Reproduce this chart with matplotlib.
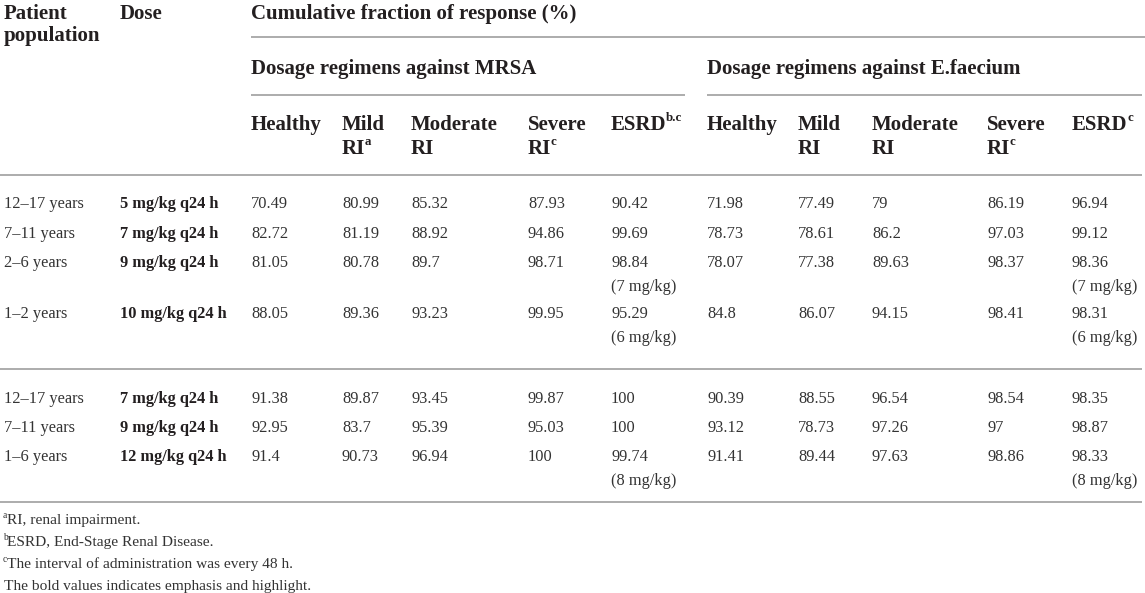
import matplotlib.pyplot as plt

# table content
header_top = "Cumulative fraction of response (%)"
group_titles = ["Dosage regimens against MRSA", "Dosage regimens against E.faecium"]
col_heads_mrsa = [("Healthy", "", ""), ("Mild", "RI", "a"), ("Moderate", "RI", ""),
                  ("Severe", "RI", "c"), ("ESRD", "", "b.c")]
col_heads_efae = [("Healthy", "", ""), ("Mild", "RI", ""), ("Moderate", "RI", ""),
                  ("Severe", "RI", "c"), ("ESRD", "", "c")]

populations_1 = ["12\u201317 years", "7\u201311 years", "2\u20136 years", "1\u20132 years"]
doses_1 = ["5 mg/kg q24 h", "7 mg/kg q24 h", "9 mg/kg q24 h", "10 mg/kg q24 h"]
mrsa_1 = [[70.49, 80.99, 85.32, 87.93, 90.42],
          [82.72, 81.19, 88.92, 94.86, 99.69],
          [81.05, 80.78, 89.7, 98.71, 98.84],
          [88.05, 89.36, 93.23, 99.95, 95.29]]
efae_1 = [[71.98, 77.49, 79, 86.19, 96.94],
          [78.73, 78.61, 86.2, 97.03, 99.12],
          [78.07, 77.38, 89.63, 98.37, 98.36],
          [84.8, 86.07, 94.15, 98.41, 98.31]]
esrd_notes_1 = ["", "", "(7 mg/kg)", "(6 mg/kg)"]

populations_2 = ["12\u201317 years", "7\u201311 years", "1\u20136 years"]
doses_2 = ["7 mg/kg q24 h", "9 mg/kg q24 h", "12 mg/kg q24 h"]
mrsa_2 = [[91.38, 89.87, 93.45, 99.87, 100],
          [92.95, 83.7, 95.39, 95.03, 100],
          [91.4, 90.73, 96.94, 100, 99.74]]
efae_2 = [[90.39, 88.55, 96.54, 98.54, 98.35],
          [93.12, 78.73, 97.26, 97, 98.87],
          [91.41, 89.44, 97.63, 98.86, 98.33]]
esrd_notes_2 = ["", "", "(8 mg/kg)"]

footnotes = [("a", "RI, renal impairment."),
             ("b", "ESRD, End-Stage Renal Disease."),
             ("c", "The interval of administration was every 48 h."),
             ("", "The bold values indicates emphasis and highlight.")]

FONT = "Liberation Serif"
HEAD_C = "#231f20"
BODY_C = "#333333"
LINE_C = "#a6a6a6"
HS = 15.0   # header size
BS = 11.8   # body size
FS = 11.1   # footnote size

col_x = [251, 342, 411, 528, 611, 707, 798, 872, 987, 1072]

fig = plt.figure(figsize=(11.45, 5.93), dpi=100)
ax = fig.add_axes([0, 0, 1, 1])
ax.set_xlim(0, 1145)
ax.set_ylim(593, 0)
ax.axis("off")
renderer = fig.canvas.get_renderer()


def right_edge(t):
    bb = t.get_window_extent(renderer)
    return ax.transData.inverted().transform((bb.x1, bb.y0))[0]


def put(x, y, s, size, bold=False, color=BODY_C, sup=""):
    w = "bold" if bold else "normal"
    t = ax.text(x, y, s, fontsize=size, family=FONT, color=color,
                fontweight=w, va="baseline", ha="left")
    if sup:
        ax.text(right_edge(t) - 0.5, y - size * 0.6, sup, fontsize=size * 0.62,
                family=FONT, color=color, fontweight=w, va="baseline", ha="left")
    return t


def hline(y, x0, x1):
    ax.plot([x0, x1], [y, y], color=LINE_C, lw=1.3, solid_capstyle="butt")


# header
put(4, 19, "Patient", HS, True, HEAD_C)
put(4, 41, "population", HS, True, HEAD_C)
put(120, 19, "Dose", HS, True, HEAD_C)
put(251, 19, header_top, HS, True, HEAD_C)
hline(37, 251, 1145)
put(251, 74, group_titles[0], HS, True, HEAD_C)
put(707, 74, group_titles[1], HS, True, HEAD_C)
hline(95, 251, 685)
hline(95, 707, 1142)
for heads, xs in ((col_heads_mrsa, col_x[:5]), (col_heads_efae, col_x[5:])):
    for (l1, l2, sup), x in zip(heads, xs):
        if l2:
            put(x, 130, l1, HS, True, HEAD_C)
            put(x, 154, l2, HS, True, HEAD_C, sup)
        else:
            put(x, 130, l1, HS, True, HEAD_C, sup)
hline(175, 0, 1142)


def draw_group(pops, doses, mrsa, efae, notes, ys):
    for i, y in enumerate(ys):
        put(4, y, pops[i], BS)
        put(120, y, doses[i], BS, True, HEAD_C)
        vals = list(mrsa[i]) + list(efae[i])
        for x, v in zip(col_x, vals):
            put(x, y, str(v), BS)
        if notes[i]:
            put(col_x[4], y + 24, notes[i], BS)
            put(col_x[9], y + 24, notes[i], BS)


draw_group(populations_1, doses_1, mrsa_1, efae_1, esrd_notes_1, [208, 238, 267, 318])
hline(369, 0, 1142)
draw_group(populations_2, doses_2, mrsa_2, efae_2, esrd_notes_2, [403, 432, 461])
hline(502, 0, 1142)

for i, (mark, txt) in enumerate(footnotes):
    y = 524 + 22 * i
    if mark:
        m = ax.text(3, y - 6, mark, fontsize=FS * 0.62, family=FONT, color=BODY_C,
                    va="baseline", ha="left")
        put(right_edge(m) - 0.5, y, txt, FS)
    else:
        put(4, y, txt, FS)

fig.savefig("out.png", dpi=100)
